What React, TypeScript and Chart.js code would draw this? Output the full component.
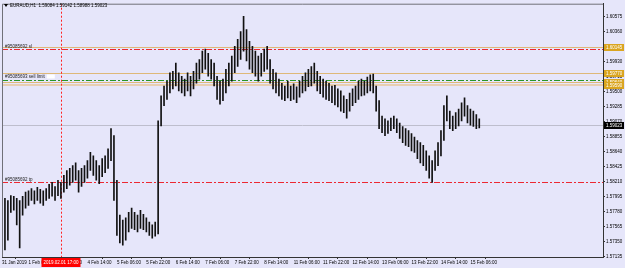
import React, { useEffect, useRef } from 'react';
import { Chart, registerables } from 'chart.js';
Chart.register(...registerables);

const N_SLOTS = 205;

const highs = [
  1.5801, 1.5797, 1.5794, 1.5801, 1.5800, 1.5797, 1.5794, 1.5800, 1.5806, 1.5808,
  1.5811, 1.5808, 1.5813, 1.5810, 1.5808, 1.5811, 1.5817, 1.5820, 1.5814, 1.5823,
  1.5820, 1.5830, 1.5837, 1.5840, 1.5844, 1.5848, 1.5837, 1.5840, 1.5844, 1.5851,
  1.5863, 1.5858, 1.5851, 1.5844, 1.5854, 1.5858, 1.5868, 1.5897, 1.5887, 1.5823,
  1.5773, 1.5766, 1.5769, 1.5777, 1.5783, 1.5777, 1.5773, 1.5780, 1.5774, 1.5769,
  1.5763, 1.5759, 1.5763, 1.5908, 1.5944, 1.5958, 1.5965, 1.5977, 1.5979, 1.5991,
  1.5977, 1.5972, 1.5968, 1.5977, 1.5972, 1.5979, 1.5991, 1.5996, 1.6008, 1.6011,
  1.6005, 1.5996, 1.5991, 1.5972, 1.5965, 1.5968, 1.5982, 1.5991, 1.6001, 1.6015,
  1.6025, 1.6036, 1.6058, 1.6039, 1.6022, 1.6015, 1.6008, 1.6001, 1.6005, 1.6011,
  1.6015, 1.5996, 1.5982, 1.5977, 1.5968, 1.5962, 1.5958, 1.5965, 1.5958, 1.5961,
  1.5957, 1.5965, 1.5972, 1.5977, 1.5982, 1.5986, 1.5991, 1.5979, 1.5972, 1.5968,
  1.5965, 1.5962, 1.5958, 1.5959, 1.5954, 1.5951, 1.5944, 1.5939, 1.5948, 1.5954,
  1.5958, 1.5965, 1.5968, 1.5965, 1.5971, 1.5974, 1.5975, 1.5958, 1.5937, 1.5915,
  1.5911, 1.5908, 1.5912, 1.5915, 1.5911, 1.5905, 1.5900, 1.5897, 1.5894, 1.5890,
  1.5885, 1.5880, 1.5877, 1.5873, 1.5865, 1.5858, 1.5851, 1.5865, 1.5877, 1.5894,
  1.5930, 1.5944, 1.5922, 1.5915, 1.5920, 1.5925, 1.5934, 1.5941, 1.5930, 1.5925,
  1.5922, 1.5917, 1.5911,
];

const lows = [
  1.5773, 1.5723, 1.5737, 1.5777, 1.5780, 1.5759, 1.5726, 1.5773, 1.5783, 1.5787,
  1.5794, 1.5789, 1.5794, 1.5790, 1.5787, 1.5794, 1.5797, 1.5800, 1.5794, 1.5801,
  1.5797, 1.5806, 1.5811, 1.5816, 1.5820, 1.5823, 1.5806, 1.5814, 1.5820, 1.5826,
  1.5837, 1.5830, 1.5823, 1.5818, 1.5828, 1.5834, 1.5840, 1.5851, 1.5794, 1.5744,
  1.5733, 1.5730, 1.5737, 1.5749, 1.5754, 1.5752, 1.5749, 1.5754, 1.5752, 1.5749,
  1.5744, 1.5740, 1.5743, 1.5746, 1.5901, 1.5930, 1.5939, 1.5948, 1.5954, 1.5958,
  1.5951, 1.5948, 1.5944, 1.5951, 1.5944, 1.5954, 1.5962, 1.5968, 1.5977, 1.5982,
  1.5972, 1.5968, 1.5958, 1.5939, 1.5932, 1.5937, 1.5948, 1.5958, 1.5965, 1.5977,
  1.5986, 1.5996, 1.6008, 1.5994, 1.5982, 1.5977, 1.5972, 1.5965, 1.5972, 1.5979,
  1.5982, 1.5962, 1.5954, 1.5948, 1.5944, 1.5939, 1.5937, 1.5941, 1.5937, 1.5939,
  1.5934, 1.5942, 1.5948, 1.5951, 1.5957, 1.5958, 1.5962, 1.5951, 1.5947, 1.5942,
  1.5939, 1.5937, 1.5934, 1.5931, 1.5928, 1.5922, 1.5920, 1.5912, 1.5922, 1.5930,
  1.5934, 1.5939, 1.5944, 1.5945, 1.5948, 1.5951, 1.5948, 1.5922, 1.5897, 1.5891,
  1.5887, 1.5890, 1.5894, 1.5897, 1.5891, 1.5883, 1.5877, 1.5873, 1.5871, 1.5865,
  1.5863, 1.5854, 1.5848, 1.5844, 1.5837, 1.5826, 1.5820, 1.5837, 1.5844, 1.5858,
  1.5880, 1.5908, 1.5897, 1.5894, 1.5897, 1.5901, 1.5908, 1.5915, 1.5905, 1.5902,
  1.5900, 1.5897, 1.5898,
];

const xTickIndex = [0, 9, 19, 29, 39, 49, 59, 69, 79, 89, 99, 109, 119, 129, 139, 149, 159];
const xTickText = [
  '31 Jan 2019', '1 Feb 06:00', '1 Feb 22:00', '4 Feb 14:00', '5 Feb 06:00', '5 Feb 22:00',
  '6 Feb 14:00', '7 Feb 06:00', '7 Feb 22:00', '8 Feb 14:00', '11 Feb 06:00', '11 Feb 22:00',
  '12 Feb 14:00', '13 Feb 06:00', '13 Feb 22:00', '14 Feb 14:00', '15 Feb 06:00',
];

const yTicks = [
  1.57135, 1.5735, 1.57565, 1.5778, 1.57995, 1.5821, 1.58425, 1.5864, 1.58855,
  1.5907, 1.59285, 1.595, 1.59715, 1.5993, 1.60145, 1.6036, 1.60575,
];
const Y_MIN = 1.5713;
const Y_MAX = 1.6076;

const titleText = 'EURAUD,H1  1.59084 1.59142 1.58988 1.59023';
const bidPrice = 1.59023;
const tanLevels = [1.60145, 1.5977, 1.5964];
const bandLevel = 1.5959;
const orangeLabels = [1.60145, 1.5977, 1.5964, 1.5959];
const slLevel = 1.60105;
const sellLimitLevel = 1.59668;
const tpLevel = 1.5821;
const slText = '#95085692 sl';
const sellLimitText = '#95085693 sell limit';
const tpText = '#95085692 tp';
const vlineIndex = 20;
const vlineText = '2019.02.01 17:00';

const BG = '#E6E6FA';
const FAMILY = '"Liberation Sans", Arial, sans-serif';
const FONT = '4.5px ' + FAMILY;

const overlay = {
  id: 'mt4overlay',
  beforeDatasetsDraw(chart: any) {
    const { ctx, chartArea: a, scales } = chart;
    const y = scales.y;
    const x = scales.x;
    ctx.save();
    ctx.beginPath();
    ctx.rect(a.left, a.top, a.right - a.left, a.bottom - a.top);
    ctx.clip();
    const hline = (p: number, color: string, width: number, dash: number[]) => {
      const py = Math.round(y.getPixelForValue(p)) + (width % 2 ? 0.5 : 0);
      ctx.strokeStyle = color;
      ctx.lineWidth = width;
      ctx.setLineDash(dash);
      ctx.beginPath();
      ctx.moveTo(a.left, py);
      ctx.lineTo(a.right, py);
      ctx.stroke();
      return py;
    };
    tanLevels.forEach((p) => hline(p, 'rgb(222,184,120)', 1, []));
    hline(bandLevel, 'rgb(232,206,178)', 2, []);
    hline(bidPrice, 'rgb(190,190,205)', 1, []);
    const ySl = hline(slLevel, 'rgb(236,40,50)', 1, [6, 2, 2, 2]);
    const ySell = hline(sellLimitLevel, 'rgb(40,150,40)', 1, [6, 2, 2, 2]);
    const yTp = hline(tpLevel, 'rgb(236,40,50)', 1, [6, 2, 2, 2]);

    const vx = Math.round(x.getPixelForValue(vlineIndex)) + 0.5;
    ctx.strokeStyle = '#FF2020';
    ctx.lineWidth = 1;
    ctx.setLineDash([2, 2]);
    ctx.beginPath();
    ctx.moveTo(vx, a.top);
    ctx.lineTo(vx, a.bottom);
    ctx.stroke();
    ctx.setLineDash([]);

    ctx.font = FONT;
    ctx.fillStyle = '#222';
    ctx.textBaseline = 'bottom';
    ctx.textAlign = 'left';
    ctx.fillText(slText, a.left + 3, ySl - 0.5);
    const w = ctx.measureText(sellLimitText).width;
    ctx.fillText(sellLimitText, a.left + 3, ySell - 1.5);
    ctx.fillStyle = '#fff';
    ctx.fillRect(a.left + 5 + w, ySell - 6, 8, 4);
    ctx.fillStyle = '#222';
    ctx.fillText(tpText, a.left + 3, yTp - 0.5);
    ctx.restore();
  },
  afterDraw(chart: any) {
    const { ctx, chartArea: a, scales } = chart;
    const y = scales.y;
    const x = scales.x;
    ctx.save();
    ctx.strokeStyle = '#707078';
    ctx.lineWidth = 1;
    ctx.beginPath();
    ctx.moveTo(a.left + 0.5, a.bottom);
    ctx.lineTo(a.left + 0.5, a.top + 0.5);
    ctx.lineTo(a.right, a.top + 0.5);
    ctx.stroke();

    ctx.font = FONT;
    ctx.textBaseline = 'middle';
    ctx.textAlign = 'left';
    const box = (p: number, bg: string, txt: string) => {
      const py = Math.round(y.getPixelForValue(p));
      ctx.fillStyle = bg;
      ctx.fillRect(a.right + 1, py - 3, 20, 7);
      ctx.fillStyle = '#fff';
      ctx.fillText(txt, a.right + 3, py + 0.5);
    };
    orangeLabels.forEach((p) => box(p, '#DAA520', p.toFixed(5)));
    box(bidPrice, '#000', bidPrice.toFixed(5));

    const vx = Math.round(x.getPixelForValue(vlineIndex));
    const tw = ctx.measureText(vlineText).width;
    ctx.fillStyle = '#FF0000';
    ctx.fillRect(vx - tw / 2 - 2, a.bottom + 1, tw + 4, 9);
    ctx.fillStyle = '#fff';
    ctx.textAlign = 'center';
    ctx.fillText(vlineText, vx, a.bottom + 5.5);

    ctx.fillStyle = '#000';
    ctx.beginPath();
    ctx.moveTo(4, 4);
    ctx.lineTo(8, 4);
    ctx.lineTo(6, 7);
    ctx.closePath();
    ctx.fill();
    ctx.textAlign = 'left';
    ctx.fillText(titleText, 10, 5.5);
    ctx.restore();
  },
};

export default function App() {
  const ref = useRef<HTMLCanvasElement | null>(null);
  useEffect(() => {
    document.body.style.margin = '0';
    document.body.style.background = BG;
    const labels: string[] = Array.from({ length: N_SLOTS }, () => '');
    xTickIndex.forEach((idx, k) => {
      labels[idx] = xTickText[k];
    });
    const barData = highs.map((h, i) => [lows[i], h]);
    const chart = new Chart(ref.current as HTMLCanvasElement, {
      type: 'bar',
      data: {
        labels,
        datasets: [
          {
            data: barData as any,
            backgroundColor: '#111',
            borderWidth: 0,
            barThickness: 1,
            grouped: false,
          } as any,
        ],
      },
      options: {
        animation: false,
        responsive: false,
        devicePixelRatio: 1,
        layout: { padding: { left: 2, top: 2, right: 0, bottom: 0 } },
        plugins: { legend: { display: false }, tooltip: { enabled: false } },
        scales: {
          x: {
            type: 'category',
            offset: false,
            afterBuildTicks: (scale: any) => {
              scale.ticks = xTickIndex.map((v) => ({ value: v }));
            },
            afterFit: (scale: any) => {
              scale.height = 11;
            },
            grid: { drawOnChartArea: false, drawTicks: true, tickLength: 2, color: '#333' },
            border: { display: true, color: '#333' },
            ticks: {
              autoSkip: false,
              maxRotation: 0,
              minRotation: 0,
              align: 'start',
              padding: 1,
              color: '#000',
              font: { size: 4.5, family: FAMILY },
              callback: (v: any) => labels[v as number],
            },
          },
          y: {
            position: 'right',
            min: Y_MIN,
            max: Y_MAX,
            afterBuildTicks: (scale: any) => {
              scale.ticks = yTicks.map((v) => ({ value: v }));
            },
            afterFit: (scale: any) => {
              scale.width = 22;
            },
            grid: { drawOnChartArea: false, drawTicks: true, tickLength: 2, color: '#333' },
            border: { display: true, color: '#333' },
            ticks: {
              padding: 1,
              color: '#000',
              font: { size: 4.5, family: FAMILY },
              callback: (v: any) => Number(v).toFixed(5),
            },
          },
        },
      },
      plugins: [overlay],
    });
    return () => chart.destroy();
  }, []);
  return (
    <div style={{ position: 'fixed', left: 0, top: 0, width: 625, height: 268, background: BG }}>
      <canvas ref={ref} width={625} height={268} />
    </div>
  );
}
